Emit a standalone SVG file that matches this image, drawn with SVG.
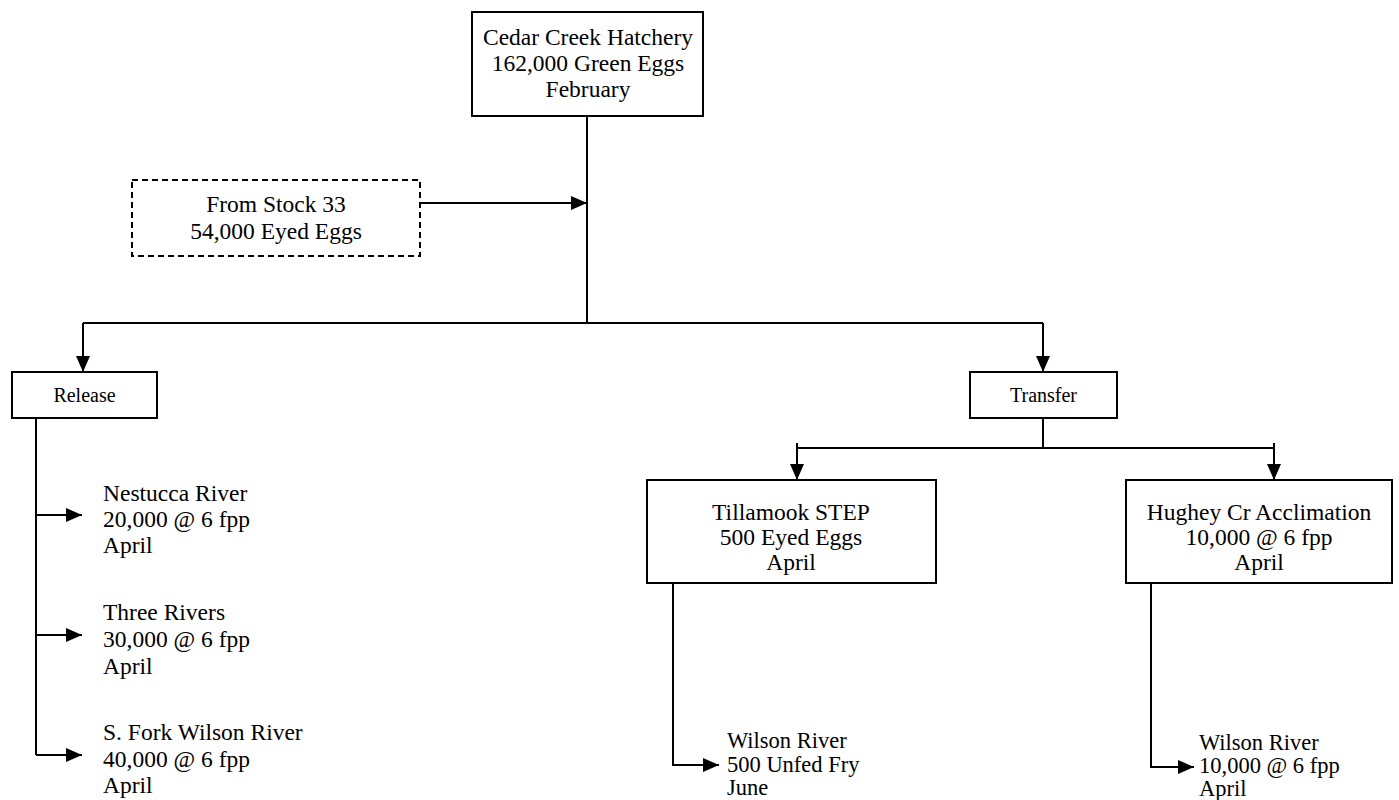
<svg xmlns="http://www.w3.org/2000/svg" width="1399" height="800" viewBox="0 0 1399 800">
<style>
.box{fill:#fff;stroke:#000;stroke-width:2}
.dash{fill:#fff;stroke:#000;stroke-width:2;stroke-dasharray:6 4}
.t{font-family:"Liberation Serif","Times New Roman",serif;font-size:23.5px;fill:#000}
.b{font-family:"Liberation Serif","Times New Roman",serif;font-size:22.5px;fill:#000}
.s{font-family:"Liberation Serif","Times New Roman",serif;font-size:20px;fill:#000}
.c{text-anchor:middle}
.ln{fill:none;stroke:#000;stroke-width:2}
</style>
<defs>
<marker id="ah" markerWidth="16" markerHeight="14" refX="16" refY="7" orient="auto" markerUnits="userSpaceOnUse">
<path d="M0,0 L16,7 L0,14 Z" fill="#000"/>
</marker>
</defs>
<rect width="1399" height="800" fill="#fff"/>
<g id="connectors">
<path class="ln" d="M587,116 V323"/>
<path class="ln" d="M420,203 H587" marker-end="url(#ah)"/>
<path class="ln" d="M83,323 H1043"/>
<path class="ln" d="M83,323 V372" marker-end="url(#ah)"/>
<path class="ln" d="M1043,323 V372" marker-end="url(#ah)"/>
<path class="ln" d="M36,418 V755"/>
<path class="ln" d="M36,515 H82" marker-end="url(#ah)"/>
<path class="ln" d="M36,635 H82" marker-end="url(#ah)"/>
<path class="ln" d="M36,755 H82" marker-end="url(#ah)"/>
<path class="ln" d="M1043,418 V448"/>
<path class="ln" d="M797,448 H1274"/>
<path class="ln" d="M797,443 V480" marker-end="url(#ah)"/>
<path class="ln" d="M1274,443 V480" marker-end="url(#ah)"/>
<path class="ln" d="M673,583 V765 H719" marker-end="url(#ah)"/>
<path class="ln" d="M1151,583 V767 H1194" marker-end="url(#ah)"/>
</g>
<g id="hatchery">
<rect class="box" x="472" y="12" width="231" height="104"/>
<text class="t c" x="588" y="45">Cedar Creek Hatchery</text>
<text class="t c" x="588" y="71">162,000 Green Eggs</text>
<text class="t c" x="588" y="97">February</text>
</g>
<g id="stock33">
<rect class="dash" x="132" y="180" width="288" height="76"/>
<text class="t c" x="276" y="212">From Stock 33</text>
<text class="t c" x="276" y="239">54,000 Eyed Eggs</text>
</g>
<g id="release">
<rect class="box" x="12" y="372" width="145" height="46"/>
<text class="s c" x="84.5" y="402">Release</text>
</g>
<g id="transfer">
<rect class="box" x="970" y="372" width="147" height="46"/>
<text class="s c" x="1043.5" y="402">Transfer</text>
</g>
<g id="nestucca">
<text class="t" x="103" y="501">Nestucca  River</text>
<text class="t" x="103" y="527">20,000 @ 6 fpp</text>
<text class="t" x="103" y="553">April</text>
</g>
<g id="threerivers">
<text class="t" x="103" y="620">Three Rivers</text>
<text class="t" x="103" y="647">30,000 @ 6 fpp</text>
<text class="t" x="103" y="674">April</text>
</g>
<g id="sfork">
<text class="t" x="103" y="740">S. Fork Wilson River</text>
<text class="t" x="103" y="767">40,000 @ 6 fpp</text>
<text class="t" x="103" y="793">April</text>
</g>
<g id="tillamook">
<rect class="box" x="647" y="480" width="289" height="103"/>
<text class="t c" x="791" y="520">Tillamook STEP</text>
<text class="t c" x="791" y="545">500 Eyed Eggs</text>
<text class="t c" x="791" y="570">April</text>
</g>
<g id="hughey">
<rect class="box" x="1126" y="480" width="266" height="103"/>
<text class="t c" x="1259" y="520">Hughey Cr Acclimation</text>
<text class="t c" x="1259" y="545">10,000 @ 6 fpp</text>
<text class="t c" x="1259" y="570">April</text>
</g>
<g id="wilson1">
<text class="b" x="727" y="748">Wilson River</text>
<text class="b" x="727" y="772">500 Unfed Fry</text>
<text class="b" x="727" y="795">June</text>
</g>
<g id="wilson2">
<text class="b" x="1199" y="750">Wilson River</text>
<text class="b" x="1199" y="773">10,000 @ 6 fpp</text>
<text class="b" x="1199" y="796">April</text>
</g>
</svg>
